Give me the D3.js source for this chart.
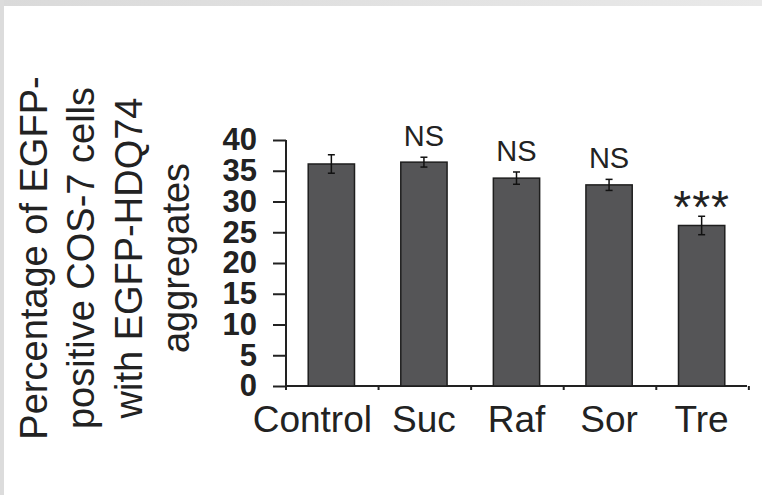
<!DOCTYPE html>
<html>
<head>
<meta charset="utf-8">
<script src="https://cdn.jsdelivr.net/npm/d3@7"></script>
<style>
  body { margin: 0; background: #fff; }
  text { font-family: "Liberation Sans", Arial, sans-serif; fill: #222; }
</style>
</head>
<body>
<div id="chart"></div>
<script>
// data
var categories = ["Control", "Suc", "Raf", "Sor", "Tre"];
var means = [36.1, 36.4, 33.8, 32.7, 26.1];
var errors = [1.5, 0.8, 1.0, 0.9, 1.5];
var marks = ["", "NS", "NS", "NS", "***"];
var yTicks = [0, 5, 10, 15, 20, 25, 30, 35, 40];
var titleLines = ["Percentage of EGFP-", "positive COS-7 cells", "with EGFP-HDQ74", "aggregates"];

var W = 762, H = 495;
var plotL = 286, plotR = 747, plotT = 140, plotB = 386;

var svg = d3.select("#chart").append("svg")
    .attr("width", W)
    .attr("height", H);

svg.append("rect").attr("width", W).attr("height", H).attr("fill", "#fff");

// grey page edge, top and left
var grad = svg.append("defs").append("linearGradient").attr("id", "edge");
grad.append("stop").attr("offset", "0%").attr("stop-color", "#dadada");
grad.append("stop").attr("offset", "100%").attr("stop-color", "#e9e9e9");
svg.append("rect").attr("x", 0).attr("y", 0).attr("width", W).attr("height", 6).attr("fill", "url(#edge)");
svg.append("rect").attr("x", 0).attr("y", 0).attr("width", 4).attr("height", H).attr("fill", "#dcdcdc");

var x = d3.scaleBand()
    .domain(categories)
    .range([plotL, plotR])
    .paddingInner(0.5)
    .paddingOuter(0.24);

var y = d3.scaleLinear()
    .domain([0, 40])
    .range([plotB, plotT]);

var rows = categories.map(function(c, i) {
    return { cat: c, mean: means[i], err: errors[i], mark: marks[i] };
});

// y axis
var yAxis = d3.axisLeft(y)
    .tickValues(yTicks)
    .tickSize(13)
    .tickSizeOuter(0)
    .tickPadding(16);

var yG = svg.append("g")
    .attr("transform", "translate(" + plotL + ",0)")
    .call(yAxis);
yG.select(".domain").attr("stroke", "#222").attr("stroke-width", 2)
    .attr("d", "M0," + plotT + "V" + (plotB + 3));
yG.selectAll(".tick line").attr("stroke", "#222").attr("stroke-width", 2);
yG.selectAll(".tick text")
    .attr("fill", "#222")
    .style("font-family", "'Liberation Sans', Arial, sans-serif")
    .style("font-size", "31px")
    .style("font-weight", "bold");

// x axis: baseline with ticks at category boundaries
svg.append("line")
    .attr("x1", plotL).attr("x2", plotR)
    .attr("y1", plotB).attr("y2", plotB)
    .attr("stroke", "#222").attr("stroke-width", 2);

var bounds = d3.range(categories.length + 1).map(function(i) {
    return x.range()[0] + i * x.step();
});
svg.selectAll(".xtick").data(bounds).enter().append("line")
    .attr("class", "xtick")
    .attr("x1", function(d) { return d; })
    .attr("x2", function(d) { return d; })
    .attr("y1", plotB)
    .attr("y2", plotB + 4)
    .attr("stroke", "#222").attr("stroke-width", 2);

// bars
svg.selectAll(".bar").data(rows).enter().append("rect")
    .attr("class", "bar")
    .attr("x", function(d) { return x(d.cat); })
    .attr("width", x.bandwidth())
    .attr("y", function(d) { return y(d.mean); })
    .attr("height", function(d) { return y(0) - y(d.mean); })
    .attr("fill", "#555557")
    .attr("stroke", "#1e1e1e")
    .attr("stroke-width", 1.5);

// error bars
var eb = svg.selectAll(".err").data(rows).enter().append("g").attr("class", "err")
    .attr("stroke", "#111").attr("stroke-width", 1.5);
eb.append("line")
    .attr("x1", function(d) { return x(d.cat) + x.bandwidth() / 2; })
    .attr("x2", function(d) { return x(d.cat) + x.bandwidth() / 2; })
    .attr("y1", function(d) { return y(d.mean + d.err); })
    .attr("y2", function(d) { return y(d.mean - d.err); });
[1, -1].forEach(function(s) {
    eb.append("line")
        .attr("x1", function(d) { return x(d.cat) + x.bandwidth() / 2 - 3.5; })
        .attr("x2", function(d) { return x(d.cat) + x.bandwidth() / 2 + 3.5; })
        .attr("y1", function(d) { return y(d.mean + s * d.err); })
        .attr("y2", function(d) { return y(d.mean + s * d.err); });
});

// significance marks
svg.selectAll(".mark").data(rows.filter(function(d) { return d.mark; })).enter().append("text")
    .attr("class", "mark")
    .attr("x", function(d) { return x(d.cat) + x.bandwidth() / 2; })
    .attr("y", function(d) { return y(d.mean + d.err) - (d.mark === "***" ? -7 : 11); })
    .attr("text-anchor", "middle")
    .style("font-size", function(d) { return d.mark === "***" ? "46px" : "29px"; })
    .style("letter-spacing", function(d) { return d.mark === "***" ? "1px" : "0px"; })
    .text(function(d) { return d.mark; });

// category labels
svg.selectAll(".cat").data(categories).enter().append("text")
    .attr("class", "cat")
    .attr("x", function(d) { return x(d) + x.bandwidth() / 2; })
    .attr("dx", function(d, i) { return i === 0 ? -19 : 0; })
    .attr("y", 432)
    .attr("text-anchor", "middle")
    .style("font-size", "37px")
    .text(function(d) { return d; });

// y title, four rotated lines
var titleX = [47, 94, 142, 189];
svg.selectAll(".ytitle").data(titleLines).enter().append("text")
    .attr("class", "ytitle")
    .attr("transform", function(d, i) { return "translate(" + titleX[i] + ",258) rotate(-90)"; })
    .attr("text-anchor", "middle")
    .style("font-size", "38px")
    .text(function(d) { return d; });
</script>
</body>
</html>
